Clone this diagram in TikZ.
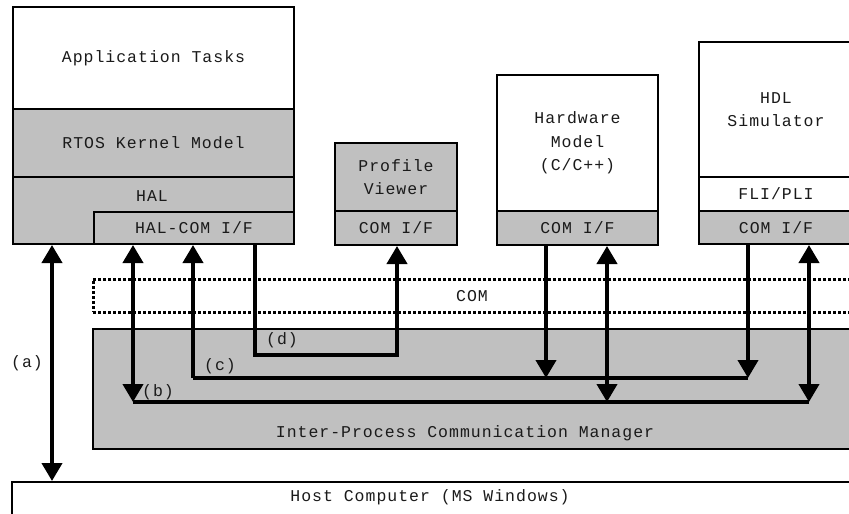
\documentclass[tikz,border=0pt]{standalone}
\usepackage{fontspec}
\newfontfamily\labfont[LetterSpace=6]{Liberation Mono}
\usetikzlibrary{arrows.meta}
\definecolor{panel}{HTML}{C0C0C0}
\definecolor{ink}{HTML}{1A1A1A}
\tikzset{
  box/.style={draw, line width=2pt, anchor=north west, inner sep=0pt,
    align=center, text=ink, font=\fontsize{16.5}{23.5}\labfont},
  greybox/.style={box, fill=panel},
  plainbox/.style={box, fill=white},
  lbl/.style={inner sep=0pt, text=ink, font=\fontsize{16.5}{23.5}\labfont},
  link/.style={line width=4pt},
  >={Triangle[length=18pt,width=20pt]}
}
\begin{document}
\begin{tikzpicture}[x=1pt,y=-1pt]
\useasboundingbox (0,0) rectangle (849,514);
\clip (0,0) rectangle (849,514);

% target node stack
\node[plainbox, minimum width=281pt, minimum height=102pt] (app) at (12,6) {Application Tasks};
\node[greybox, minimum width=281pt, minimum height=68pt] (rtos) at (12,108) {RTOS Kernel Model};
\node[greybox, minimum width=281pt, minimum height=67pt] (hal) at (12,176) {};
\node[lbl] (haltext) at (152,196) {HAL};
\node[greybox, minimum width=200pt, minimum height=32pt] (halcom) at (93,211) {HAL-COM I/F};

% profile viewer
\node[greybox, minimum width=122pt, minimum height=68pt] (pv) at (334,142) {Profile\\Viewer};
\node[greybox, minimum width=122pt, minimum height=34pt] (pvcom) at (334,210) {COM I/F};

% hardware model
\node[plainbox, minimum width=161pt, minimum height=136pt] (hw) at (496,74) {Hardware\\Model\\(C/C++)};
\node[greybox, minimum width=161pt, minimum height=34pt] (hwcom) at (496,210) {COM I/F};

% HDL simulator
\node[plainbox, minimum width=154pt, minimum height=135pt] (hdl) at (698,41) {HDL\\Simulator};
\node[plainbox, minimum width=154pt, minimum height=34pt] (fli) at (698,176) {FLI/PLI};
\node[greybox, minimum width=154pt, minimum height=33pt] (hdlcom) at (698,210) {COM I/F};

% COM layer and IPC manager
\node[box, dash pattern=on 3pt off 2pt, line width=2.5pt, minimum width=760pt, minimum height=33pt] (com) at (92,278) {};
\node[lbl] (comtext) at (472,296) {COM};
\node[greybox, minimum width=760pt, minimum height=120pt] (ipc) at (92,328) {};
\node[lbl] (ipctext) at (465,433) {Inter-Process Communication Manager};

% host
\node[plainbox, minimum width=841pt, minimum height=40pt] (host) at (11,481) {};
\node[lbl] (hosttext) at (430,497) {Host Computer (MS Windows)};

% connector columns
\coordinate (ax) at (52,0);
\coordinate (b0) at (133,402);
\coordinate (b1) at (607,402);
\coordinate (b2) at (809,402);
\coordinate (c0) at (193,378);
\coordinate (c1) at (546,378);
\coordinate (c2) at (748,378);
\coordinate (d0) at (255,355);
\coordinate (d1) at (397,355);

% (a) target <-> host
\draw[link,<->] (hal.south -| ax) -- (host.north -| ax);

% (b) bidirectional bus
\draw[link] (b0) -- (b2);
\draw[link,<->] (halcom.south -| b0) -- (b0);
\draw[link,<->] (hwcom.south -| b1) -- (b1);
\draw[link,<->] (hdlcom.south -| b2) -- (b2);

% (c) bus towards the target
\draw[link] (c0) -- (c2);
\draw[link,<-] (halcom.south -| c0) -- (c0);
\draw[link,->] (hwcom.south -| c1) -- (c1);
\draw[link,->] (hdlcom.south -| c2) -- (c2);

% (d) profiling path
\draw[link,->,line join=miter] (halcom.south -| d0) -- (d0) -- (d1) -- (pvcom.south -| d1);

% path labels
\node[lbl] (la) at (27,363) {(a)};
\node[lbl] (lb) at (158,392) {(b)};
\node[lbl] (lc) at (220,366) {(c)};
\node[lbl] (ld) at (282,340) {(d)};
\end{tikzpicture}
\end{document}
